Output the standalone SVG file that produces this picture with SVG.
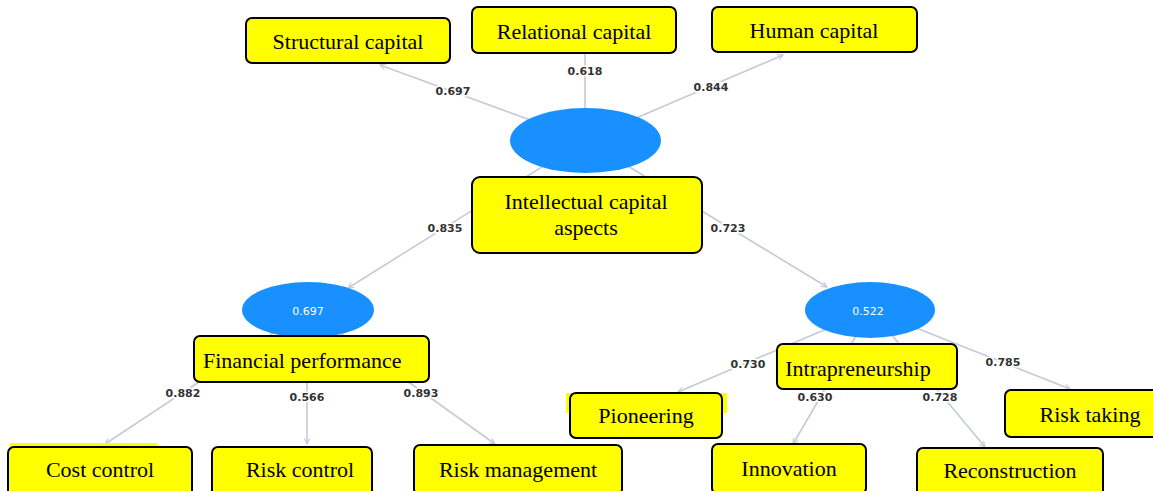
<svg xmlns="http://www.w3.org/2000/svg" width="1153" height="491" viewBox="0 0 1153 491">
<style>
.bg{fill:#ffffff}
.link{stroke:#c6cad8;stroke-width:1.6;fill:none}
.arr{stroke:#c6cad8;stroke-width:1.6;fill:none;marker-end:url(#ah)}
.lv{fill:#1890ff}
.box{fill:#ffff00;stroke:#000000;stroke-width:2}
.hl{fill:#ffff00}
.t{font-family:"Liberation Serif","Times New Roman",serif;font-size:22px;fill:#000;text-anchor:middle}
.tl{font-family:"Liberation Serif","Times New Roman",serif;font-size:22px;fill:#000}
.w{font-family:"DejaVu Sans",Verdana,sans-serif;font-size:11px;fill:#ffffff;text-anchor:middle}
.lab{font-family:"DejaVu Sans",Verdana,sans-serif;font-size:11px;font-weight:bold;fill:#333333;text-anchor:middle;stroke:#ffffff;stroke-width:3;paint-order:stroke}
</style>
<defs>
<marker id="ah" viewBox="0 0 10 10" refX="9" refY="5" markerWidth="7" markerHeight="7" orient="auto" markerUnits="userSpaceOnUse">
<path d="M1,1 L9,5 L1,9" fill="none" stroke="#c6cad8" stroke-width="1.6"/>
</marker>
</defs>
<rect class="bg" x="0" y="0" width="1153" height="491"/>
<g id="connectors">
<line class="arr" x1="585" y1="140" x2="380" y2="65"/>
<line class="link" x1="585" y1="140" x2="585" y2="53"/>
<line class="arr" x1="585" y1="140" x2="783" y2="55"/>
<line class="arr" x1="585" y1="140" x2="348" y2="288"/>
<line class="arr" x1="585" y1="140" x2="827" y2="287"/>
<line class="arr" x1="308" y1="310" x2="105" y2="444"/>
<line class="arr" x1="307" y1="310" x2="307" y2="444"/>
<line class="arr" x1="308" y1="310" x2="495" y2="444"/>
<line class="arr" x1="871" y1="310" x2="678" y2="392"/>
<line class="arr" x1="871" y1="310" x2="793" y2="444"/>
<line class="arr" x1="871" y1="310" x2="985" y2="447"/>
<line class="arr" x1="871" y1="310" x2="1070" y2="389"/>
<text class="lab" x="453" y="95">0.697</text>
<text class="lab" x="585" y="75">0.618</text>
<text class="lab" x="711" y="91">0.844</text>
<text class="lab" x="445" y="232">0.835</text>
<text class="lab" x="728" y="232">0.723</text>
<text class="lab" x="183" y="397">0.882</text>
<text class="lab" x="307" y="401">0.566</text>
<text class="lab" x="421" y="397">0.893</text>
<text class="lab" x="748" y="368">0.730</text>
<text class="lab" x="815" y="401">0.630</text>
<text class="lab" x="940" y="401">0.728</text>
<text class="lab" x="1003" y="366">0.785</text>
</g>
<g id="structural-capital">
<rect class="box" x="246" y="18" width="204" height="45" rx="6"/>
<text class="t" x="348" y="49">Structural capital</text>
</g>
<g id="relational-capital">
<rect class="box" x="472" y="7" width="204" height="46" rx="6"/>
<text class="t" x="574" y="39">Relational capital</text>
</g>
<g id="human-capital">
<rect class="box" x="712" y="7" width="205" height="45" rx="6"/>
<text class="t" x="814" y="38">Human capital</text>
</g>
<g id="intellectual-capital">
<ellipse class="lv" cx="585.5" cy="140.5" rx="75.5" ry="32.5"/>
<rect class="box" x="472" y="177" width="230" height="76" rx="8"/>
<text class="t" x="586" y="209">Intellectual capital</text>
<text class="t" x="586" y="235">aspects</text>
</g>
<g id="financial-performance">
<ellipse class="lv" cx="308" cy="310" rx="66" ry="28"/>
<text class="w" x="308" y="315">0.697</text>
<rect class="box" x="194" y="336" width="235" height="46" rx="6"/>
<text class="tl" x="203" y="368">Financial performance</text>
</g>
<g id="intrapreneurship">
<ellipse class="lv" cx="870" cy="310" rx="65" ry="28"/>
<text class="w" x="868" y="315">0.522</text>
<rect class="box" x="777" y="344" width="180" height="45" rx="6"/>
<text class="t" x="858" y="376">Intrapreneurship</text>
</g>
<g id="pioneering">
<rect class="hl" x="566" y="393" width="161" height="20"/>
<rect class="box" x="570" y="393" width="152" height="45" rx="6"/>
<text class="t" x="646" y="423">Pioneering</text>
</g>
<g id="risk-taking">
<rect class="box" x="1005" y="390" width="160" height="47" rx="6"/>
<text class="t" x="1090" y="422">Risk taking</text>
</g>
<g id="cost-control">
<rect class="hl" x="10" y="443" width="147" height="6"/>
<rect class="box" x="8" y="447" width="184" height="50" rx="6"/>
<text class="t" x="100" y="477">Cost control</text>
</g>
<g id="risk-control">
<rect class="box" x="212" y="447" width="160" height="50" rx="6"/>
<text class="t" x="300" y="477">Risk control</text>
</g>
<g id="risk-management">
<rect class="box" x="414" y="445" width="208" height="50" rx="6"/>
<text class="t" x="518" y="477">Risk management</text>
</g>
<g id="innovation">
<rect class="box" x="712" y="444" width="154" height="50" rx="6"/>
<text class="t" x="789" y="476">Innovation</text>
</g>
<g id="reconstruction">
<rect class="box" x="917" y="448" width="186" height="50" rx="6"/>
<text class="t" x="1010" y="478">Reconstruction</text>
</g>
</svg>
